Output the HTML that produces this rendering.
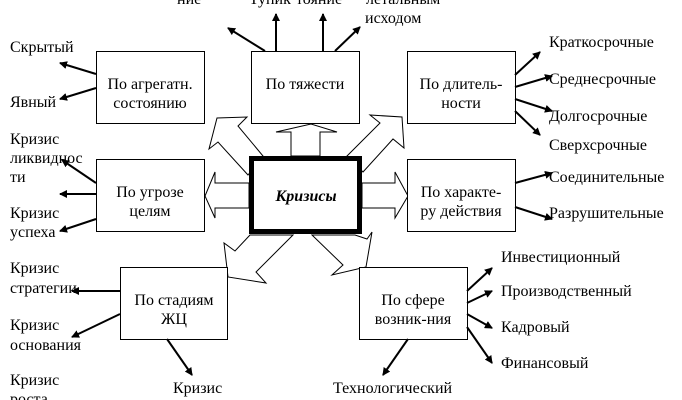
<!DOCTYPE html>
<html><head><meta charset="utf-8"><style>
html,body{margin:0;padding:0;background:#fff;width:682px;height:400px;overflow:hidden}
svg text{font-family:"Liberation Serif","DejaVu Serif",serif;font-size:16px;fill:#000}
</style></head><body>
<svg width="682" height="400" viewBox="0 0 682 400" xmlns="http://www.w3.org/2000/svg">
<defs>
<marker id="a" markerWidth="8" markerHeight="8" refX="7" refY="4" orient="auto" markerUnits="userSpaceOnUse">
<path d="M0,0 L8,4 L0,8 Z" fill="#000"/>
</marker>
</defs>
<g fill="#fff" stroke="#000" stroke-width="1">
<polygon points="291,156 291,132 276,132 311,124 337,132 320,132 320,156"/>
<polygon points="249,183 215,183 215,172 205,196 215,218 215,208 249,208"/>
<polygon points="362,183 395,183 395,172 408,196 395,218 395,208 362,208"/>
<polygon points="248,175 218,142 209,149 217,118 247,117 238,126 263,156"/>
<polygon points="347,156 380,123 370,115 402,117 404,148 393,139 363,172"/>
<polygon points="250,235 235,251 224,243 228,277 266,283 256,272 293,235"/>
<polygon points="312,235 343,265 332,275 366,267 372,232 367,239 355,235"/>
<rect x="96.5" y="51.5" width="108" height="72"/>
<rect x="251.5" y="51.5" width="108" height="72"/>
<rect x="407.5" y="51.5" width="108" height="72"/>
<rect x="96.5" y="159.5" width="108" height="72"/>
<rect x="407.5" y="159.5" width="108" height="72"/>
<rect x="120.5" y="267.5" width="107" height="72"/>
<rect x="359.5" y="267.5" width="108" height="72"/>
<rect x="251.5" y="158.5" width="108" height="73" stroke-width="5"/>
</g>
<g stroke="#000" stroke-width="2" marker-end="url(#a)">
<line x1="265" y1="51" x2="228" y2="28"/>
<line x1="276" y1="51" x2="276" y2="14"/>
<line x1="323" y1="51" x2="323" y2="14"/>
<line x1="335" y1="51" x2="360" y2="27"/>
<line x1="96" y1="74" x2="60" y2="63"/>
<line x1="96" y1="88" x2="60" y2="99"/>
<line x1="96" y1="183" x2="62" y2="160"/>
<line x1="96" y1="194" x2="60" y2="194"/>
<line x1="96" y1="219" x2="60" y2="231"/>
<line x1="120" y1="291" x2="72" y2="291"/>
<line x1="120" y1="314" x2="72" y2="337"/>
<line x1="167" y1="339" x2="192" y2="375"/>
<line x1="408" y1="339" x2="383" y2="375"/>
<line x1="467" y1="291" x2="492" y2="268"/>
<line x1="467" y1="303" x2="492" y2="291"/>
<line x1="467" y1="314" x2="492" y2="328"/>
<line x1="467" y1="327" x2="492" y2="363"/>
<line x1="515" y1="183" x2="552" y2="173"/>
<line x1="515" y1="207" x2="552" y2="219"/>
<line x1="515" y1="75" x2="540" y2="52"/>
<line x1="515" y1="87" x2="552" y2="76"/>
<line x1="515" y1="99" x2="552" y2="111"/>
<line x1="515" y1="111" x2="540" y2="135"/>
</g>
<g text-anchor="middle">
<text x="150" y="89">По агрегатн.</text>
<text x="150" y="108">состоянию</text>
<text x="305" y="89">По тяжести</text>
<text x="461" y="89">По длитель-</text>
<text x="461" y="108">ности</text>
<text x="150" y="197">По угрозе</text>
<text x="150" y="216">целям</text>
<text x="461" y="197">По характе-</text>
<text x="461" y="216">ру действия</text>
<text x="174" y="305">По стадиям</text>
<text x="174" y="324">ЖЦ</text>
<text x="413" y="305">По сфере</text>
<text x="413" y="324">возник-ния</text>
<text x="306" y="201" font-weight="bold" font-style="italic">Кризисы</text>
</g>
<text x="177" y="4">ние</text>
<text x="249" y="4">Тупик</text>
<text x="296" y="4">тояние</text>
<text x="366" y="4">летальным</text>
<text x="365" y="23">исходом</text>
<text x="10" y="52">Скрытый</text>
<text x="10" y="107">Явный</text>
<text x="10" y="144">Кризис</text>
<text x="10" y="163">ликвиднос</text>
<text x="10" y="182">ти</text>
<text x="10" y="218">Кризис</text>
<text x="10" y="237">успеха</text>
<text x="10" y="273">Кризис</text>
<text x="10" y="293">стратегии</text>
<text x="10" y="330">Кризис</text>
<text x="10" y="350">основания</text>
<text x="10" y="385">Кризис</text>
<text x="10" y="404">роста</text>
<text x="173" y="393">Кризис</text>
<text x="333" y="393">Технологический</text>
<text x="549" y="47">Краткосрочные</text>
<text x="549" y="84">Среднесрочные</text>
<text x="549" y="121">Долгосрочные</text>
<text x="549" y="150">Сверхсрочные</text>
<text x="549" y="182">Соединительные</text>
<text x="549" y="218">Разрушительные</text>
<text x="501" y="262">Инвестиционный</text>
<text x="501" y="296">Производственный</text>
<text x="501" y="332">Кадровый</text>
<text x="501" y="368">Финансовый</text>
</svg>
</body></html>
